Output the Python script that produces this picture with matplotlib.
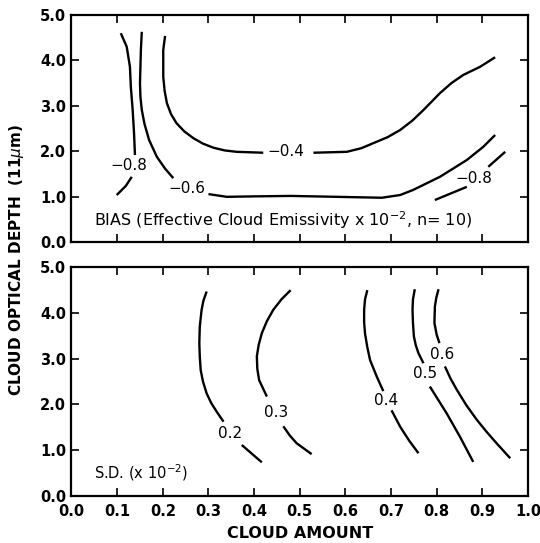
import matplotlib
matplotlib.use("Agg")
import matplotlib.pyplot as plt

# Cloud amount ticks / optical depth ticks
X_TICKS = [0.0, 0.1, 0.2, 0.3, 0.4, 0.5, 0.6, 0.7, 0.8, 0.9, 1.0]
Y_TICKS = [0.0, 1.0, 2.0, 3.0, 4.0, 5.0]

# BIAS panel, each contour split into pieces where its label sits
bias_m08_left = [
    ([0.108, 0.121, 0.128, 0.130, 0.134, 0.137, 0.139],
     [4.60, 4.30, 3.86, 3.42, 2.91, 2.40, 1.92]),
    ([0.132, 0.119, 0.099],
     [1.44, 1.24, 1.04]),
]
bias_m06 = [
    ([0.154, 0.152, 0.150, 0.151, 0.154, 0.160, 0.170, 0.187, 0.205, 0.223],
     [4.63, 4.23, 3.50, 3.20, 2.91, 2.60, 2.25, 1.88, 1.62, 1.41]),
    ([0.300, 0.340, 0.40, 0.48, 0.58, 0.68, 0.72, 0.748, 0.807, 0.866, 0.902, 0.928],
     [1.06, 1.00, 1.01, 1.02, 1.00, 0.98, 1.04, 1.15, 1.44, 1.81, 2.10, 2.36]),
]
bias_m04 = [
    ([0.205, 0.201, 0.201, 0.204, 0.209, 0.218, 0.230, 0.247, 0.267, 0.288, 0.311, 0.336, 0.362, 0.420],
     [4.54, 4.23, 3.64, 3.33, 3.06, 2.82, 2.62, 2.44, 2.29, 2.17, 2.08, 2.02, 1.99, 1.97]),
    ([0.530, 0.603, 0.635, 0.661, 0.692, 0.720, 0.747, 0.771, 0.807, 0.832, 0.858, 0.895, 0.928],
     [1.97, 1.99, 2.07, 2.18, 2.31, 2.47, 2.68, 2.91, 3.28, 3.50, 3.68, 3.86, 4.07]),
]
bias_m08_right = [
    ([0.796, 0.866], [0.93, 1.22]),
    ([0.913, 0.950], [1.66, 1.99]),
]
bias_lines = [bias_m08_left, bias_m06, bias_m04, bias_m08_right]
bias_labels = ["\u22120.8", "\u22120.6", "\u22120.4", "\u22120.8"]
bias_label_x = [0.126, 0.252, 0.470, 0.882]
bias_label_y = [1.70, 1.19, 1.99, 1.41]

# S.D. panel
sd_02 = [
    ([0.296, 0.289, 0.285, 0.281, 0.280, 0.281, 0.283, 0.288, 0.296, 0.306, 0.318, 0.333],
     [4.47, 4.27, 4.07, 3.70, 3.34, 3.05, 2.75, 2.50, 2.24, 2.03, 1.84, 1.62]),
    ([0.373, 0.417], [1.11, 0.73]),
]
sd_03 = [
    ([0.480, 0.460, 0.442, 0.428, 0.417, 0.410, 0.406, 0.407, 0.411, 0.428],
     [4.50, 4.30, 4.07, 3.82, 3.56, 3.30, 3.05, 2.78, 2.53, 2.17]),
    ([0.464, 0.478, 0.493, 0.526], [1.52, 1.32, 1.15, 0.91]),
]
sd_04 = [
    ([0.648, 0.643, 0.641, 0.641, 0.643, 0.648, 0.654, 0.669, 0.683],
     [4.50, 4.30, 4.07, 3.80, 3.55, 3.25, 2.97, 2.60, 2.29]),
    ([0.701, 0.720, 0.740, 0.760], [1.87, 1.51, 1.20, 0.93]),
]
sd_05 = [
    ([0.752, 0.748, 0.747, 0.748, 0.750, 0.754, 0.760, 0.771],
     [4.52, 4.30, 4.07, 3.78, 3.49, 3.30, 3.12, 2.90]),
    ([0.785, 0.822, 0.851, 0.880], [2.39, 1.80, 1.29, 0.74]),
]
sd_06 = [
    ([0.804, 0.799, 0.796, 0.795, 0.800, 0.806],
     [4.52, 4.33, 4.14, 3.78, 3.52, 3.34]),
    ([0.818, 0.830, 0.844, 0.865, 0.888, 0.910, 0.931, 0.961],
     [2.83, 2.57, 2.32, 1.98, 1.66, 1.39, 1.15, 0.82]),
]
sd_lines = [sd_02, sd_03, sd_04, sd_05, sd_06]
sd_labels = ["0.2", "0.3", "0.4", "0.5", "0.6"]
sd_label_x = [0.347, 0.448, 0.689, 0.774, 0.811]
sd_label_y = [1.37, 1.82, 2.09, 2.68, 3.10]

plt.rcParams['font.family'] = ['DejaVu Sans']

fig = plt.figure(figsize=(5.4, 5.43), dpi=100)
ax1 = fig.add_axes([0.1324, 0.5538, 0.8454, 0.4186])
ax2 = fig.add_axes([0.1324, 0.0871, 0.8454, 0.4206])


def style(ax, show_x):
    ax.set_xlim(0, 1)
    ax.set_ylim(0, 5)
    ax.set_xticks(X_TICKS)
    ax.set_yticks(Y_TICKS)
    ax.set_yticklabels(["%.1f" % v for v in Y_TICKS], fontweight='bold', fontsize=10.5)
    if show_x:
        ax.set_xticklabels(["%.1f" % v for v in X_TICKS], fontweight='bold', fontsize=10.5)
    else:
        ax.set_xticklabels([])
    ax.tick_params(direction='in', length=6, width=1.2, top=True, right=True)
    ax.tick_params(axis='y', pad=4)
    ax.tick_params(axis='x', pad=6)
    for s in ax.spines.values():
        s.set_linewidth(1.6)


def draw(ax, lines, labels, lx, ly):
    for segs in lines:
        for xs, ys in segs:
            ax.plot(xs, ys, color='black', lw=1.7, solid_capstyle='butt',
                    solid_joinstyle='round')
    for t, x, y in zip(labels, lx, ly):
        ax.text(x, y, t, ha='center', va='center', fontsize=11)


style(ax1, False)
style(ax2, True)
draw(ax1, bias_lines, bias_labels, bias_label_x, bias_label_y)
draw(ax2, sd_lines, sd_labels, sd_label_x, sd_label_y)

ax1.text(0.049, 0.49, "BIAS (Effective Cloud Emissivity x 10$^{-2}$, n= 10)",
         ha='left', va='center', fontsize=11.5)
ax2.text(0.049, 0.50, "S.D. (x 10$^{-2}$)", ha='left', va='center', fontsize=10.5)

ax2.set_xlabel("CLOUD AMOUNT", fontweight='bold', fontsize=11.5, labelpad=5)
fig.text(0.031, 0.521, "CLOUD OPTICAL DEPTH  (11$\\mu$m)", rotation=90,
         ha='center', va='center', fontweight='bold', fontsize=11)

plt.savefig("out.png", dpi=100)
